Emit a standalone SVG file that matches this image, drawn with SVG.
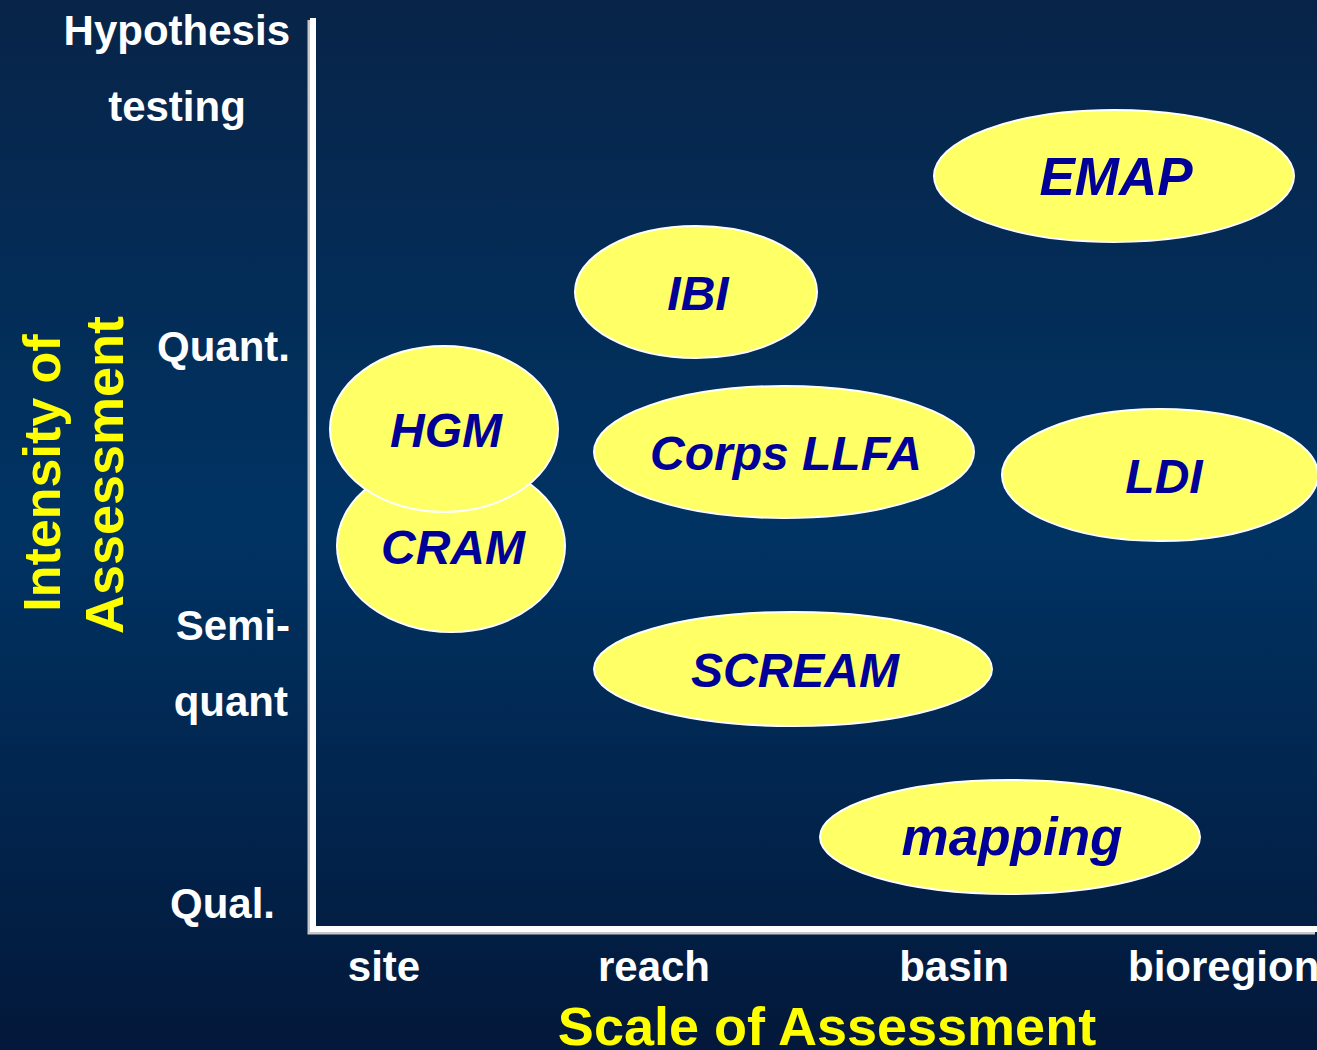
<svg xmlns="http://www.w3.org/2000/svg" width="1317" height="1050" viewBox="0 0 1317 1050">
<defs>
<linearGradient id="bg" x1="0" y1="0" x2="0" y2="1">
<stop offset="0" stop-color="#082448"/>
<stop offset="0.5" stop-color="#003363"/>
<stop offset="1" stop-color="#03183a"/>
</linearGradient>
<style>
.ax{font-family:"Liberation Sans",Arial,sans-serif;font-weight:bold;fill:#ffffff;font-size:42px}
.tt{font-family:"Liberation Sans",Arial,sans-serif;font-weight:bold;fill:#ffff00;font-size:54px}
.el{fill:#ffff66;stroke:#ffffff;stroke-width:2}
.lb{font-family:"Liberation Sans",Arial,sans-serif;font-weight:bold;font-style:italic;fill:#000099;font-size:48px;text-anchor:middle}
.big{font-size:53px}
</style>
</defs>
<rect width="1317" height="1050" fill="url(#bg)"/>
<g id="axes">
<polyline points="313,18 313,929 1317,929" fill="none" stroke="#c8c8c8" stroke-width="7" transform="translate(-2,2)"/>
<polyline points="313,18 313,929 1317,929" fill="none" stroke="#ffffff" stroke-width="6"/>
</g>
<g id="ylabels" class="ax">
<text x="290" y="45" text-anchor="end">Hypothesis</text>
<text x="177" y="121" text-anchor="middle">testing</text>
<text x="290" y="361" text-anchor="end">Quant.</text>
<text x="290" y="640" text-anchor="end">Semi-</text>
<text x="288" y="716" text-anchor="end">quant</text>
<text x="275" y="918" text-anchor="end">Qual.</text>
</g>
<g id="xlabels" class="ax">
<text x="384" y="981" text-anchor="middle">site</text>
<text x="654" y="981" text-anchor="middle">reach</text>
<text x="954" y="981" text-anchor="middle">basin</text>
<text x="1128" y="981">bioregion</text>
</g>
<text class="tt" x="827" y="1045" text-anchor="middle">Scale of Assessment</text>
<g class="tt">
<text transform="translate(60,473) rotate(-90)" text-anchor="middle" style="font-size:52px">Intensity of</text>
<text transform="translate(123,475) rotate(-90)" text-anchor="middle">Assessment</text>
</g>
<g id="EMAP"><ellipse class="el" cx="1114" cy="176" rx="180" ry="66"/><text class="lb big" x="1116" y="195">EMAP</text></g>
<g id="IBI"><ellipse class="el" cx="696" cy="292" rx="121" ry="66"/><text class="lb" x="698" y="310">IBI</text></g>
<g id="CRAM"><ellipse class="el" cx="451" cy="546" rx="114" ry="86"/><text class="lb" x="453" y="564">CRAM</text></g>
<g id="HGM"><ellipse class="el" cx="444" cy="429" rx="114" ry="83"/><text class="lb" x="446" y="447">HGM</text></g>
<g id="CorpsLLFA"><ellipse class="el" cx="784" cy="452" rx="190" ry="66"/><text class="lb" x="786" y="470">Corps LLFA</text></g>
<g id="LDI"><ellipse class="el" cx="1160" cy="475" rx="158" ry="66"/><text class="lb" x="1164" y="493">LDI</text></g>
<g id="SCREAM"><ellipse class="el" cx="793" cy="669" rx="199" ry="57"/><text class="lb" x="795" y="687">SCREAM</text></g>
<g id="mapping"><ellipse class="el" cx="1010" cy="837" rx="190" ry="57"/><text class="lb big" x="1012" y="855">mapping</text></g>
</svg>
